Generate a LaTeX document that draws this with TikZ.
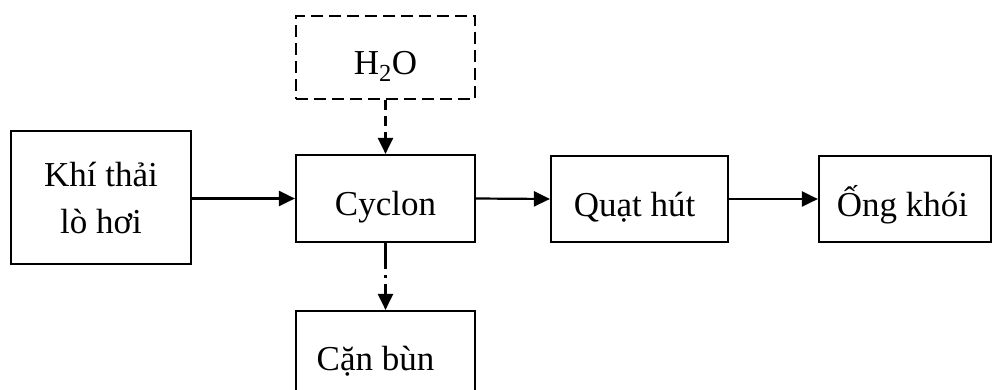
\documentclass[tikz,border=0pt]{standalone}
\usepackage{fontspec}
\setmainfont{Liberation Serif}
\usetikzlibrary{arrows.meta}
\begin{document}
\begin{tikzpicture}[x=1pt,y=-1pt,
  box/.style={draw,line width=2.2pt,rectangle,inner sep=0pt,
    font=\fontsize{35}{47}\selectfont,align=center},
  line/.style={box,text depth=0pt,text height=#1},
  flow/.style={line width=2.2pt,-{Triangle[length=16pt,width=15pt]}},
  dashedbox/.style={dash pattern=on 12pt off 6pt}]
\useasboundingbox (0,0) rectangle (992,389);
% process boxes
\node[line=33pt,dashedbox,minimum width=179pt,minimum height=83pt] (water) at (385.5,57.5) {H\textsubscript{2}O};
\node[line=33pt,minimum width=179pt,minimum height=87pt] (cyclon) at (385.5,198.5) {Cyclon};
\node[box,minimum width=180pt,minimum height=133pt] (gas) at (101,197.5) {Khí thải\\lò hơi};
\node[line=34pt,minimum width=177pt,minimum height=86pt] (fan) at (639.5,199) {Quạt hút\hspace{10pt}};
\node[line=34pt,minimum width=172pt,minimum height=86pt] (stack) at (905,199) {Ống khói\hspace{5pt}};
\node[line=29pt,minimum width=179pt,minimum height=89pt] (sludge) at (385.5,355.5) {Cặn bùn\hspace{20pt}};
% connectors
\draw[flow] (gas.east |- cyclon.west) -- (cyclon.west);
\draw[flow] (cyclon.east) -- (fan.west);
\draw[flow] (fan.east) -- (stack.west);
\draw[flow,dash pattern=on 10pt off 6pt] (water.south) -- (cyclon.north);
\draw[flow,dash pattern=on 26pt off 6pt on 3pt off 6pt] (cyclon.south) -- (sludge.north);
\end{tikzpicture}
\end{document}
